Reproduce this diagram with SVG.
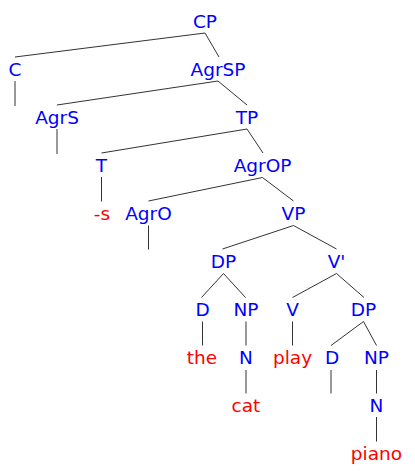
<svg xmlns="http://www.w3.org/2000/svg" width="415" height="471" viewBox="0 0 415 471">
<style>
text{font-family:"DejaVu Sans",sans-serif;font-size:18.5px;text-anchor:middle}
.n{fill:#0000ff}
.w{fill:#ff0000}
#edges line{stroke:#333;stroke-width:1}
</style>
<rect width="415" height="471" fill="#fff"/>
<g id="edges">
<line x1="205" y1="33" x2="15" y2="57"/>
<line x1="205" y1="33" x2="219" y2="57"/>
<line x1="15" y1="81" x2="15" y2="106"/>
<line x1="218" y1="81" x2="57" y2="105"/>
<line x1="218" y1="81" x2="247" y2="105"/>
<line x1="57" y1="129" x2="57" y2="154"/>
<line x1="247" y1="129" x2="101.5" y2="153"/>
<line x1="247" y1="129" x2="263" y2="153"/>
<line x1="101.5" y1="177" x2="101.5" y2="201.5"/>
<line x1="262.5" y1="177.5" x2="148.5" y2="201"/>
<line x1="262.5" y1="177.5" x2="293.5" y2="201"/>
<line x1="148.5" y1="225.5" x2="148.5" y2="249.5"/>
<line x1="293.5" y1="225.5" x2="222.5" y2="249"/>
<line x1="293.5" y1="225.5" x2="336.5" y2="249"/>
<line x1="223.5" y1="273.5" x2="201.5" y2="297.5"/>
<line x1="223.5" y1="273.5" x2="245.5" y2="297.5"/>
<line x1="336.5" y1="273.5" x2="292.5" y2="297.5"/>
<line x1="336.5" y1="273.5" x2="364" y2="297.5"/>
<line x1="202.5" y1="321.5" x2="202.5" y2="345.5"/>
<line x1="246" y1="321.5" x2="246" y2="345.5"/>
<line x1="292.5" y1="321.5" x2="292.5" y2="345.5"/>
<line x1="363.5" y1="321.5" x2="331" y2="345.5"/>
<line x1="363.5" y1="321.5" x2="376.5" y2="345.5"/>
<line x1="331" y1="370" x2="331" y2="393.5"/>
<line x1="246" y1="370" x2="246" y2="393.5"/>
<line x1="376.5" y1="370" x2="376.5" y2="393.5"/>
<line x1="376.5" y1="417" x2="376.5" y2="441.5"/>
</g>
<g id="CP"><text class="n" x="205" y="28">CP</text></g>
<g id="C"><text class="n" x="15" y="76">C</text></g>
<g id="AgrSP"><text class="n" x="218" y="76">AgrSP</text></g>
<g id="AgrS"><text class="n" x="57" y="124">AgrS</text></g>
<g id="TP"><text class="n" x="247" y="124">TP</text></g>
<g id="T"><text class="n" x="101.5" y="172">T</text></g>
<g id="AgrOP"><text class="n" x="262.5" y="172">AgrOP</text></g>
<g id="s"><text class="w" x="102" y="220">-s</text></g>
<g id="AgrO"><text class="n" x="148.5" y="220">AgrO</text></g>
<g id="VP"><text class="n" x="293.5" y="220">VP</text></g>
<g id="DP1"><text class="n" x="223.5" y="268">DP</text></g>
<g id="Vbar"><text class="n" x="336.5" y="268">V'</text></g>
<g id="D1"><text class="n" x="202.5" y="316">D</text></g>
<g id="NP1"><text class="n" x="246" y="316">NP</text></g>
<g id="V"><text class="n" x="292.5" y="316">V</text></g>
<g id="DP2"><text class="n" x="363.5" y="316">DP</text></g>
<g id="the"><text class="w" x="202" y="364">the</text></g>
<g id="N1"><text class="n" x="246" y="364">N</text></g>
<g id="play"><text class="w" x="292.5" y="364">play</text></g>
<g id="D2"><text class="n" x="332" y="364">D</text></g>
<g id="NP2"><text class="n" x="376.5" y="364">NP</text></g>
<g id="cat"><text class="w" x="246" y="412">cat</text></g>
<g id="N2"><text class="n" x="376.5" y="412">N</text></g>
<g id="piano"><text class="w" x="376.5" y="460">piano</text></g>
</svg>
